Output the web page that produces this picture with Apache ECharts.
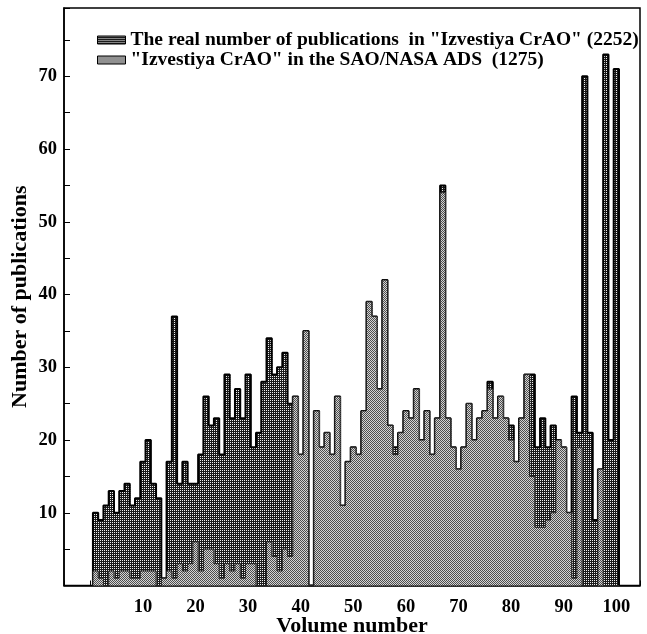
<!DOCTYPE html>
<html>
<head>
<meta charset="utf-8">
<script src="https://cdn.jsdelivr.net/npm/echarts@6/dist/echarts.min.js"></script>
<style>
html,body{margin:0;padding:0;background:#fff;}
#chart{width:647px;height:634px;}
</style>
</head>
<body>
<div id="chart"></div>
<script>
// ---- data ----
const volumes = [1,2,3,4,5,6,7,8,9,10,11,12,13,14,15,16,17,18,19,20,
  21,22,23,24,25,26,27,28,29,30,31,32,33,34,35,36,37,38,39,40,
  41,42,43,44,45,46,47,48,49,50,51,52,53,54,55,56,57,58,59,60,
  61,62,63,64,65,66,67,68,69,70,71,72,73,74,75,76,77,78,79,80,
  81,82,83,84,85,86,87,88,89,90,91,92,93,94,95,96,97,98,99,100];

const realCounts = [10,9,11,13,10,13,14,11,12,17,
  20,14,12,1,17,37,14,17,14,14,
  18,26,22,23,18,29,23,27,23,29,
  19,21,28,34,29,30,32,25,26,18,
  35,0,24,19,21,18,26,11,17,19,
  18,24,39,37,27,42,22,19,21,24,
  23,27,20,24,18,23,55,23,19,16,
  19,25,20,23,24,28,23,26,23,22,
  17,23,29,29,19,23,19,22,20,19,
  10,26,21,70,21,9,16,73,20,71];

const adsCounts = [2,1,0,2,1,2,2,1,1,2,
  2,2,0,1,2,1,3,2,3,6,
  2,5,5,3,1,3,2,3,1,3,
  3,0,0,6,4,2,5,4,26,18,
  35,0,24,19,21,18,26,11,17,19,
  18,24,39,37,27,42,22,18,21,24,
  23,27,20,24,18,23,54,23,19,16,
  19,25,20,23,24,27,23,26,23,20,
  17,23,29,15,8,8,9,10,20,19,
  10,1,19,0,0,0,16,0,0,0];

const seriesNames = [
  'The real number of publications  in "Izvestiya CrAO" (2252)',
  '"Izvestiya CrAO" in the SAO/NASA ADS  (1275)'
];
const xTickLabels = [10,20,30,40,50,60,70,80,90,100];
const yTickLabels = [10,20,30,40,50,60,70];

// ---- patterns ----
function makePattern(w, h, cells) {
  const c = document.createElement('canvas');
  c.width = w; c.height = h;
  const ctx = c.getContext('2d');
  for (let y = 0; y < h; y++) for (let x = 0; x < w; x++) {
    ctx.fillStyle = cells[y][x];
    ctx.fillRect(x, y, 1, 1);
  }
  return { image: c, repeat: 'repeat' };
}
const darkPattern = makePattern(2, 2, [['#f0f0f0', '#1a1a1a'], ['#1a1a1a', '#1a1a1a']]);
const lightPattern = makePattern(2, 2, [['#4e4e4e', '#d4d4d4'], ['#d4d4d4', '#4e4e4e']]);

function barData(counts) { return volumes.map((v, i) => [v, counts[i]]); }
function outlineData(counts) {
  const pts = [[volumes[0] - 0.5, 0]];
  volumes.forEach((v, i) => pts.push([v - 0.5, counts[i]]));
  pts.push([volumes[volumes.length - 1] + 0.5, 0]);
  return pts;
}
function makeRender(pattern) {
  return function (params, api) {
    const v = api.value(0), h = api.value(1);
    if (!h) return null;
    const p0 = api.coord([v - 0.5, h]);
    const p1 = api.coord([v + 0.5, 0]);
    return {
      type: 'rect',
      shape: { x: p0[0], y: p0[1], width: p1[0] - p0[0] + 0.6, height: p1[1] - p0[1] },
      style: { fill: pattern }
    };
  };
}

const font = 'Liberation Serif';
const chart = echarts.init(document.getElementById('chart'), null, { renderer: 'canvas' });
chart.setOption({
  animation: false,
  backgroundColor: '#fff',
  grid: { left: 64, right: 7, top: 8, bottom: 48.5, show: true, borderColor: '#000', borderWidth: 1.5,
          backgroundColor: 'transparent', containLabel: false, outerBoundsMode: 'none' },
  legend: {
    orient: 'vertical', left: 92, top: 25, itemGap: 0, itemWidth: 28, itemHeight: 8,
    icon: 'rect',
    textStyle: { fontFamily: font, fontWeight: 'bold', fontSize: 19.5, color: '#000' },
    data: [
      { name: seriesNames[0], itemStyle: { color: darkPattern, borderColor: '#000', borderWidth: 1 } },
      { name: seriesNames[1], itemStyle: { color: lightPattern, borderColor: '#000', borderWidth: 1 } }
    ]
  },
  xAxis: {
    type: 'value', min: -5, max: 104.5, interval: 5,
    name: 'Volume number', nameLocation: 'middle', nameGap: 30, nameMoveOverlap: false,
    nameTextStyle: { fontFamily: font, fontWeight: 'bold', fontSize: 22, color: '#000' },
    axisLine: { show: true, onZero: false, lineStyle: { color: '#000', width: 1.5 } },
    axisTick: { show: true, inside: true, length: 5, lineStyle: { color: '#000' } },
    splitLine: { show: false },
    axisLabel: {
      margin: 12, fontFamily: font, fontWeight: 'bold', fontSize: 18.5, color: '#000',
      formatter: v => xTickLabels.indexOf(v) >= 0 ? String(v) : ''
    }
  },
  yAxis: {
    type: 'value', min: 0, max: 79.4, interval: 5,
    name: 'Number of publications', nameLocation: 'middle', nameGap: 33, nameMoveOverlap: false,
    nameTextStyle: { fontFamily: font, fontWeight: 'bold', fontSize: 22, color: '#000' },
    axisLine: { show: true, onZero: false, lineStyle: { color: '#000', width: 1.5 } },
    axisTick: { show: true, inside: true, length: 6, lineStyle: { color: '#000' } },
    splitLine: { show: false },
    axisLabel: {
      margin: 7, fontFamily: font, fontWeight: 'bold', fontSize: 18.5, color: '#000',
      formatter: v => yTickLabels.indexOf(v) >= 0 ? String(v) : ''
    }
  },
  series: [
    { name: seriesNames[0], type: 'custom', z: 2, renderItem: makeRender(darkPattern),
      itemStyle: { color: darkPattern }, data: barData(realCounts), encode: { x: 0, y: 1 } },
    { name: 'realOutline', type: 'line', z: 3, step: 'end', showSymbol: false, symbol: 'none',
      lineStyle: { color: '#000', width: 2 }, data: outlineData(realCounts), silent: true },
    { name: seriesNames[1], type: 'custom', z: 4, renderItem: makeRender(lightPattern),
      itemStyle: { color: lightPattern }, data: barData(adsCounts), encode: { x: 0, y: 1 } },
    { name: 'adsOutline', type: 'line', z: 5, step: 'end', showSymbol: false, symbol: 'none',
      lineStyle: { color: '#222', width: 1 }, data: outlineData(adsCounts), silent: true }
  ]
});
</script>
</body>
</html>
